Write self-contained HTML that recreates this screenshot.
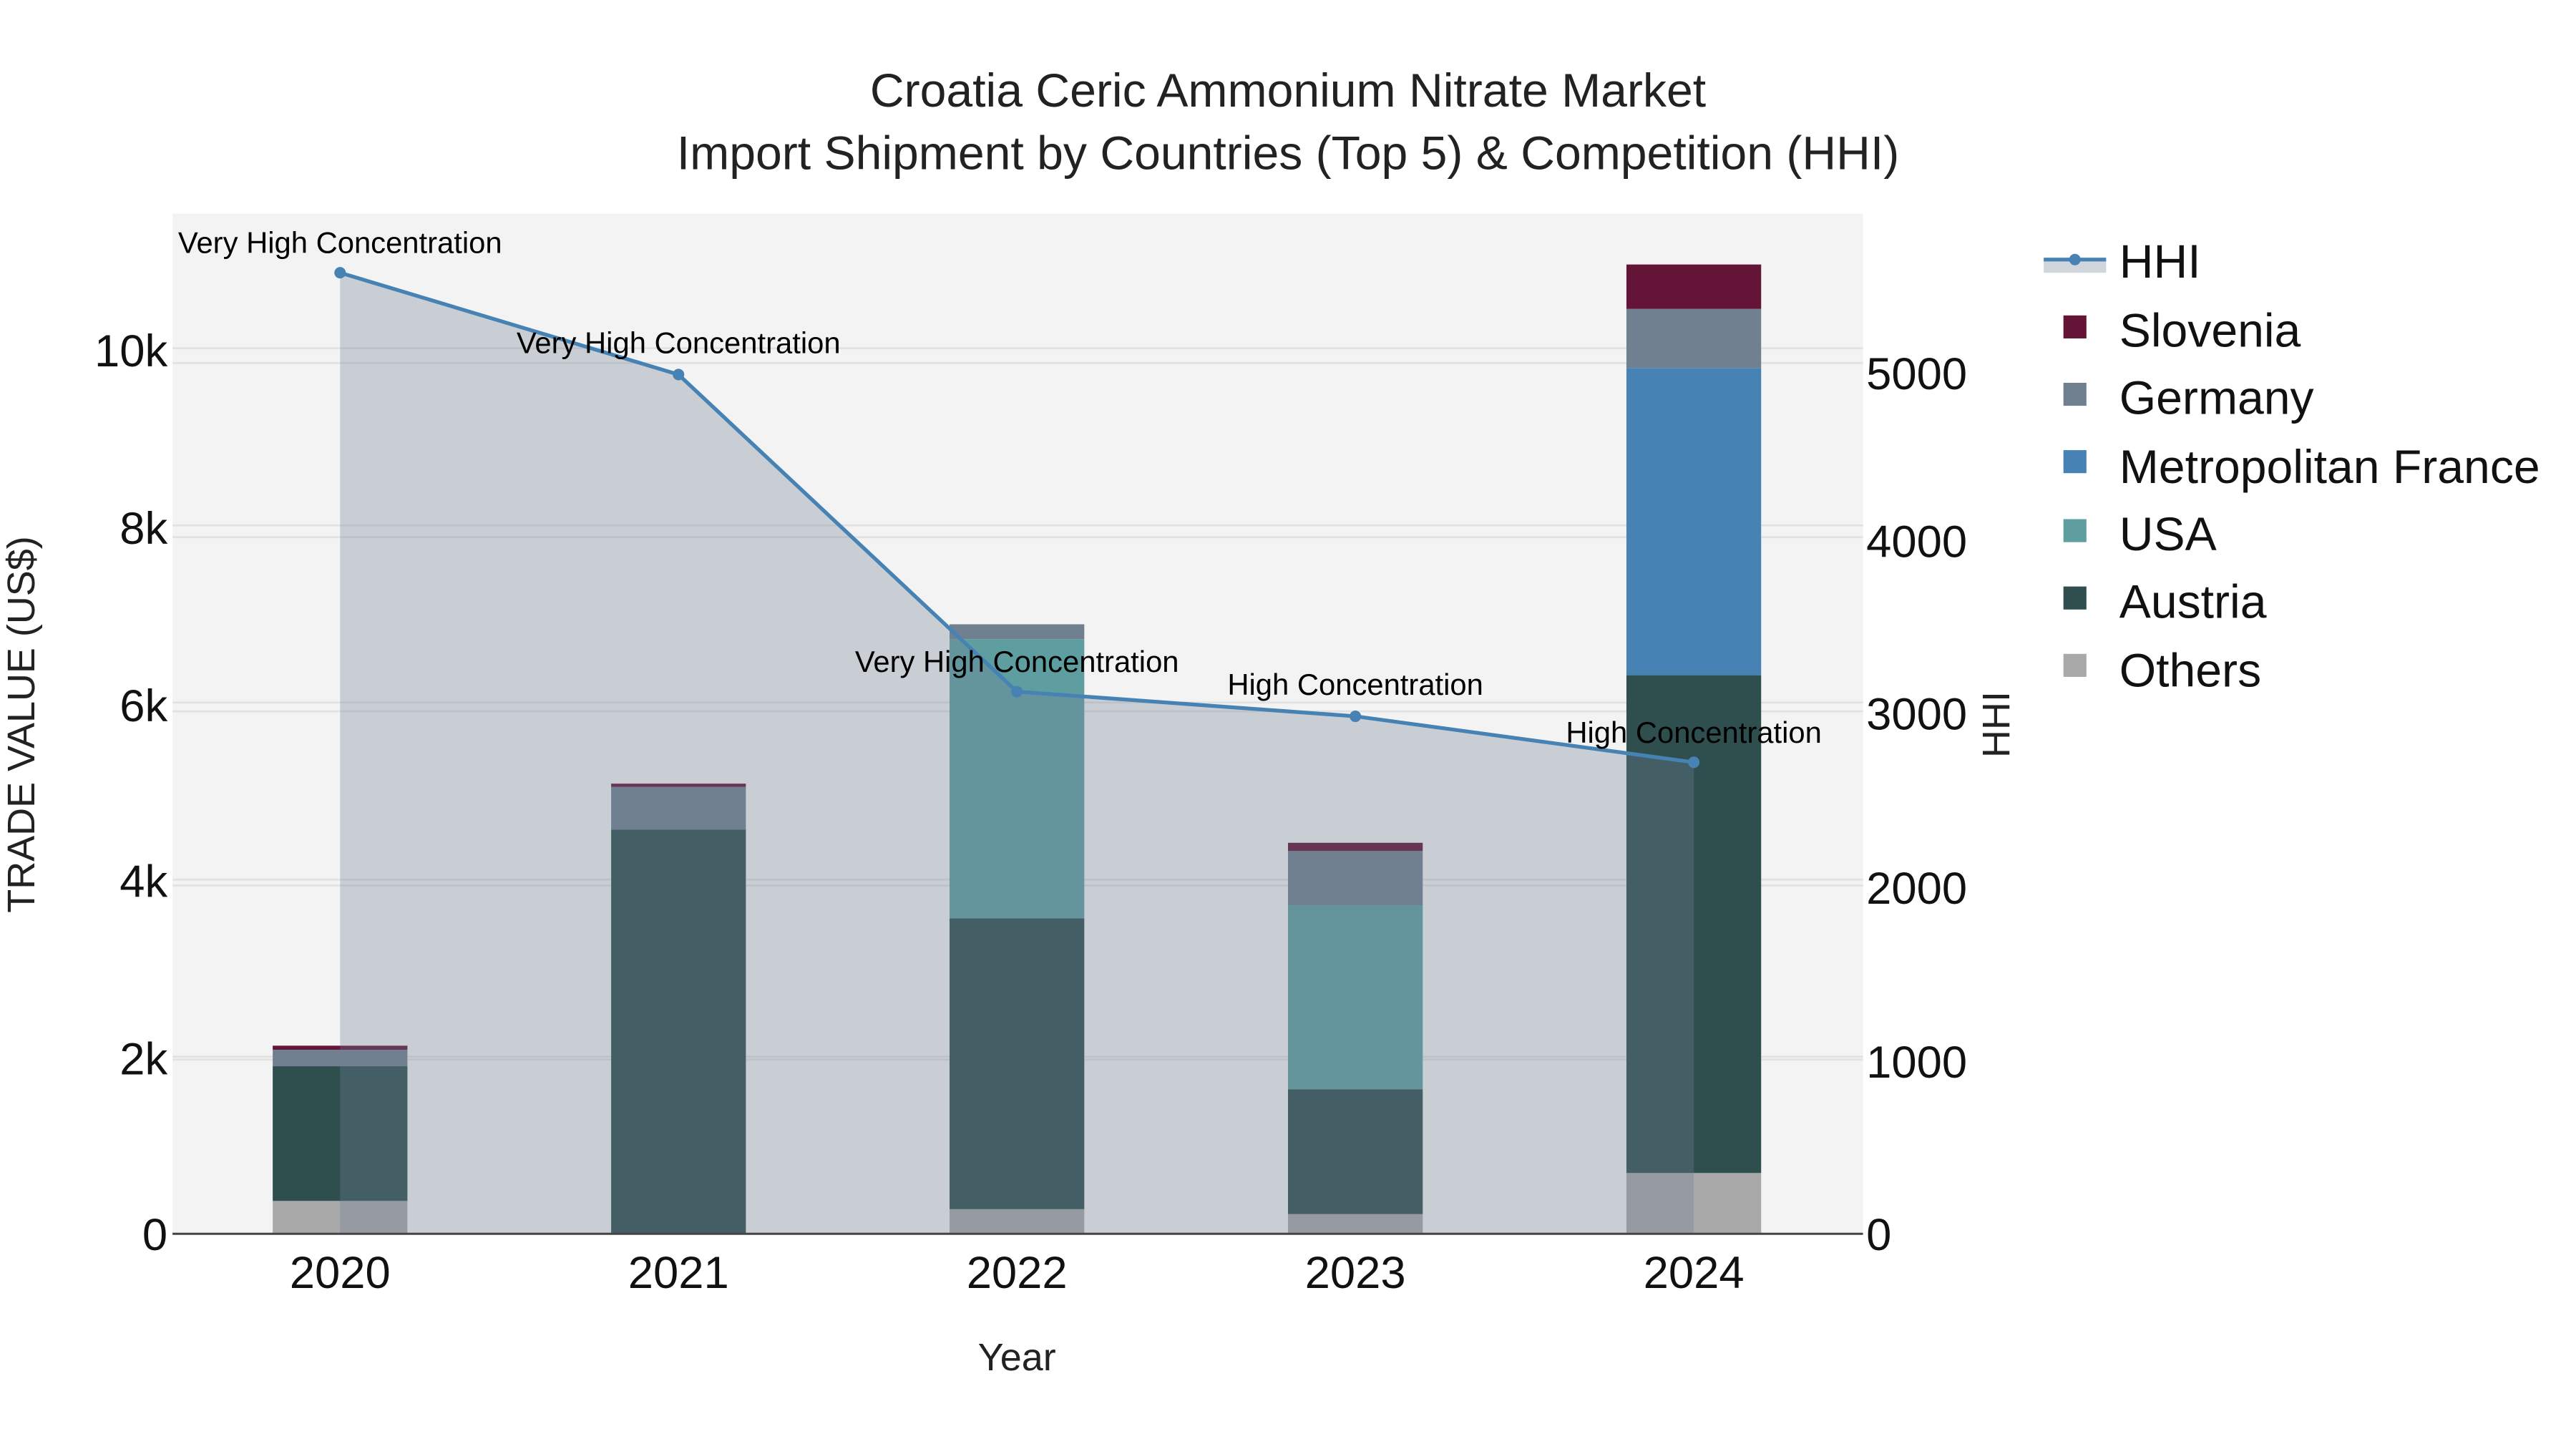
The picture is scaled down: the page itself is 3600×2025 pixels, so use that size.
<!DOCTYPE html>
<html><head><meta charset="utf-8"><style>
html,body{margin:0;padding:0;background:#fff;}
svg{display:block;}
text{font-family:"Liberation Sans",sans-serif;}
</style></head><body>
<svg width="3600" height="2025" viewBox="0 0 1568 882" xmlns="http://www.w3.org/2000/svg">
<rect x="0" y="0" width="1568" height="882" fill="#fff"/>
<rect x="105" y="130" width="1029" height="621" fill="#f3f3f3"/>
<g stroke="#e2e2e2" stroke-width="1.2">
<line x1="105" x2="1134" y1="643.2" y2="643.2"/>
<line x1="105" x2="1134" y1="535.4" y2="535.4"/>
<line x1="105" x2="1134" y1="427.6" y2="427.6"/>
<line x1="105" x2="1134" y1="319.8" y2="319.8"/>
<line x1="105" x2="1134" y1="212" y2="212"/>
<line x1="105" x2="1134" y1="645" y2="645"/>
<line x1="105" x2="1134" y1="539" y2="539"/>
<line x1="105" x2="1134" y1="433" y2="433"/>
<line x1="105" x2="1134" y1="327" y2="327"/>
<line x1="105" x2="1134" y1="221" y2="221"/>
</g>
<g>
<rect x="166" y="731" width="82" height="20" fill="#a9a9a9"/>
<rect x="166" y="649" width="82" height="82" fill="#2f4f4f"/>
<rect x="166" y="639" width="82" height="10" fill="#708090"/>
<rect x="166" y="636.5" width="82" height="2.5" fill="#641436"/>
<rect x="372" y="505" width="82" height="246" fill="#2f4f4f"/>
<rect x="372" y="479" width="82" height="26" fill="#708090"/>
<rect x="372" y="477" width="82" height="2" fill="#641436"/>
<rect x="578" y="736" width="82" height="15" fill="#a9a9a9"/>
<rect x="578" y="559" width="82" height="177" fill="#2f4f4f"/>
<rect x="578" y="389" width="82" height="170" fill="#5f9ea0"/>
<rect x="578" y="380" width="82" height="9" fill="#708090"/>
<rect x="784" y="739" width="82" height="12" fill="#a9a9a9"/>
<rect x="784" y="663" width="82" height="76" fill="#2f4f4f"/>
<rect x="784" y="551" width="82" height="112" fill="#5f9ea0"/>
<rect x="784" y="518" width="82" height="33" fill="#708090"/>
<rect x="784" y="513" width="82" height="5" fill="#641436"/>
<rect x="990" y="714" width="82" height="37" fill="#a9a9a9"/>
<rect x="990" y="411" width="82" height="303" fill="#2f4f4f"/>
<rect x="990" y="224" width="82" height="187" fill="#4682b4"/>
<rect x="990" y="188" width="82" height="36" fill="#708090"/>
<rect x="990" y="161" width="82" height="27" fill="#641436"/>
</g>
<polygon points="207,751 207,166 413,228 619,421 825,436 1031,464 1031,751" fill="rgba(112,128,148,0.32)"/>
<polyline points="207,166 413,228 619,421 825,436 1031,464" fill="none" stroke="#4682b4" stroke-width="2.3"/>
<g fill="#4682b4">
<circle cx="207" cy="166" r="3.5"/><circle cx="413" cy="228" r="3.5"/><circle cx="619" cy="421" r="3.5"/><circle cx="825" cy="436" r="3.5"/><circle cx="1031" cy="464" r="3.5"/>
</g>
<g font-size="18.2" fill="#000" text-anchor="middle">
<text x="207" y="154">Very High Concentration</text>
<text x="413" y="215">Very High Concentration</text>
<text x="619" y="409">Very High Concentration</text>
<text x="825" y="423">High Concentration</text>
<text x="1031" y="452">High Concentration</text>
</g>
<line x1="105" x2="1134" y1="751" y2="751" stroke="#444" stroke-width="1.3"/>
<g font-size="27.6" fill="#111" text-anchor="middle">
<text x="207" y="784">2020</text><text x="413" y="784">2021</text><text x="619" y="784">2022</text><text x="825" y="784">2023</text><text x="1031" y="784">2024</text>
</g>
<g font-size="27.6" fill="#111" text-anchor="end">
<text x="102" y="761">0</text>
<text x="102" y="654">2k</text>
<text x="102" y="546">4k</text>
<text x="102" y="439">6k</text>
<text x="102" y="331">8k</text>
<text x="102" y="223">10k</text>
</g>
<g font-size="27.6" fill="#111" text-anchor="start">
<text x="1136" y="761">0</text>
<text x="1136" y="656">1000</text>
<text x="1136" y="550">2000</text>
<text x="1136" y="444">3000</text>
<text x="1136" y="339">4000</text>
<text x="1136" y="237">5000</text>
</g>
<text x="619" y="834" font-size="23.5" fill="#222" text-anchor="middle">Year</text>
<text transform="translate(21,441) rotate(-90)" font-size="23.5" fill="#222" text-anchor="middle">TRADE VALUE (US$)</text>
<text transform="translate(1223,441) rotate(-90)" font-size="23.5" fill="#222" text-anchor="middle">HHI</text>
<g font-size="28.8" fill="#222" text-anchor="middle">
<text x="784" y="65">Croatia Ceric Ammonium Nitrate Market</text>
<text x="784" y="103">Import Shipment by Countries (Top 5) &amp; Competition (HHI)</text>
</g>
<rect x="1244" y="158" width="38" height="8" fill="rgba(112,128,148,0.32)"/>
<line x1="1244" x2="1282" y1="158" y2="158" stroke="#4682b4" stroke-width="2.3"/>
<circle cx="1263" cy="158" r="3.5" fill="#4682b4"/>
<rect x="1256" y="192" width="14" height="14" fill="#641436"/>
<rect x="1256" y="233" width="14" height="14" fill="#708090"/>
<rect x="1256" y="274" width="14" height="14" fill="#4682b4"/>
<rect x="1256" y="316" width="14" height="14" fill="#5f9ea0"/>
<rect x="1256" y="357" width="14" height="14" fill="#2f4f4f"/>
<rect x="1256" y="398" width="14" height="14" fill="#a9a9a9"/>
<g font-size="28.8" fill="#111">
<text x="1290" y="169">HHI</text>
<text x="1290" y="211">Slovenia</text>
<text x="1290" y="252">Germany</text>
<text x="1290" y="294">Metropolitan France</text>
<text x="1290" y="335">USA</text>
<text x="1290" y="376">Austria</text>
<text x="1290" y="418">Others</text>
</g>
</svg>
</body></html>
